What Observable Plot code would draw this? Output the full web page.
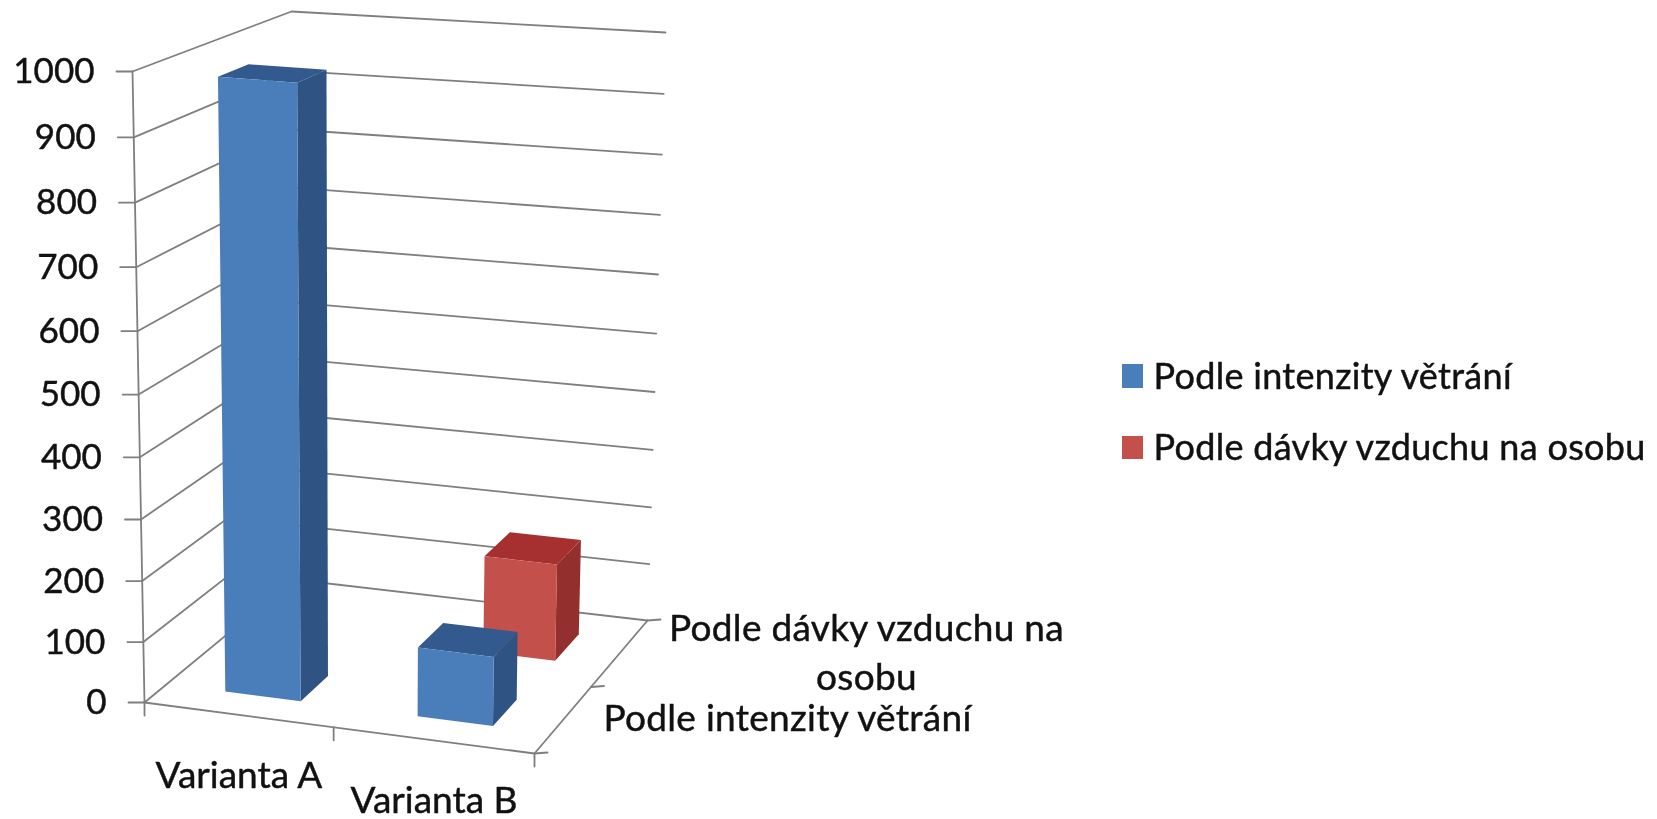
<!DOCTYPE html>
<html><head><meta charset="utf-8">
<script src="https://cdn.jsdelivr.net/npm/d3@7"></script>
<script src="https://cdn.jsdelivr.net/npm/@observablehq/plot@0.6"></script>
<style>
html,body{margin:0;padding:0;background:#fff;overflow:hidden}
svg{display:block;filter:blur(0.55px)}
.wide text{letter-spacing:0.3px}
</style>
</head><body><div id="chart"></div>
<script>
// ---- data
const categories = ["Varianta A", "Varianta B"];
const seriesNames = ["Podle intenzity větrání", "Podle dávky vzduchu na osobu"];
const depthLabels = ["Podle intenzity větrání", "Podle dávky vzduchu na\nosobu"];
const intenzita = [985, 113];
const davka = [null, 165];
const valueTicks = [0, 100, 200, 300, 400, 500, 600, 700, 800, 900, 1000];

// ---- look
const faces = [
  {front: "#4a7ebb", top: "#325a8f", side: "#2f5383"},
  {front: "#c4504c", top: "#a5302f", side: "#93302e"}
];
const gridColor = "#7f7f7f", font = "Lato, sans-serif";

// ---- the 3D view: the cube's eight screen corners (u = along categories, v = depth, w = value)
const cube = {
  b00: [144, 702], b10: [534, 753], b01: [293, 579], b11: [647, 620],
  t00: [132, 71],  t10: [542, 102], t01: [291, 11],  t11: [665, 32]
};
const lerp = (a, b, t) => [a[0] + (b[0] - a[0]) * t, a[1] + (b[1] - a[1]) * t];
const project = (u, v, value) => {
  const r = value / 1000, w = r / (r + 1.049 * (1 - r));
  const bottom = lerp(lerp(cube.b00, cube.b10, u), lerp(cube.b01, cube.b11, u), v);
  const top = lerp(lerp(cube.t00, cube.t10, u), lerp(cube.t01, cube.t11, u), v);
  return lerp(bottom, top, w);
};
const pt = (u, v, value, id) => { const [x, y] = project(u, v, value); return {x, y, id}; };

// ---- walls
const wallLines = valueTicks.flatMap((t) => [
  pt(0, 0, t, "g" + t), pt(0, 1, t, "g" + t), pt(1, 1, t, "g" + t)
]);
const floorLines = [
  pt(0, 0, 0, "f"), pt(1, 0, 0, "f"), pt(1, 1, 0, "f"),
  pt(0, 0, 0, "ax"), pt(0, 0, 1000, "ax")
];
const offset = (p, dx, dy, id) => ({x: p.x + dx, y: p.y + dy, id});
const ticks = [
  ...valueTicks.flatMap((t) => { const p = pt(0, 0, t); return [offset(p, 0, 0, "v" + t), offset(p, -16, 0, "v" + t)]; }),
  ...[0, 0.485, 1].flatMap((u) => { const p = pt(u, 0, 0); return [offset(p, 0, 0, "c" + u), offset(p, 0, 13, "c" + u)]; }),
  ...[0, 0.5, 1].flatMap((v) => { const p = pt(1, v, 0); return [offset(p, 0, 0, "d" + v), offset(p, 13, -1, "d" + v)]; })
];

// ---- bars
const halfW = 0.098, halfD = 0.1, seriesShift = 0.008;
const rows = [];
[intenzita, davka].forEach((vals, s) => vals.forEach((value, c) => {
  if (value != null) rows.push({c, s, value});
}));
rows.sort((a, b) => b.s - a.s || a.c - b.c);
const polys = rows.flatMap(({c, s, value}) => {
  const uc = (c + 0.5) / 2 + s * seriesShift;
  const u0 = uc - halfW, u1 = uc + halfW;
  const v0 = (s + 0.5) / 2 - halfD, v1 = (s + 0.5) / 2 + halfD;
  const id = `${c}-${s}-`, f = faces[s];
  const face = (name, color, corners) =>
    corners.map((k) => ({...pt(k[0], k[1], k[2], id + name), color}));
  return [
    ...face("top", f.top, [[u0, v0, value], [u1, v0, value], [u1, v1, value], [u0, v1, value]]),
    ...face("side", f.side, [[u1, v0, 0], [u1, v1, 0], [u1, v1, value], [u1, v0, value]]),
    ...face("front", f.front, [[u0, v0, 0], [u1, v0, 0], [u1, v0, value], [u0, v0, value]])
  ];
});

// ---- labels
const valueLabels = valueTicks.map((t) => { const p = pt(0, 0, t); return {x: p.x - 38, y: p.y - 3, t: String(t)}; });
const catLabels = categories.map((t, c) => { const p = pt((c + 0.5) / 2, 0, 0); return {x: p.x - 3, y: p.y + 57, t}; });
const depthText = [
  {x: 787, y: 715, t: depthLabels[0]},
  {x: 866, y: 649, t: depthLabels[1]}
];
const legendBox = [
  {x1: 1122, x2: 1143, y1: 364, y2: 388, color: faces[0].front},
  {x1: 1122, x2: 1143, y1: 436, y2: 459, color: faces[1].front}
];
const legendText = seriesNames.map((t, i) => ({x: 1153, y: 373 + i * 71, t}));

const textOpts = {x: "x", y: "y", text: "t", fontFamily: font, fill: "#111", stroke: "#111", strokeWidth: 0.45, lineHeight: 1.32};

const chart = Plot.plot({
  width: 1657, height: 819, margin: 0,
  x: {type: "identity", axis: null}, y: {type: "identity", axis: null},
  marks: [
    Plot.line(wallLines, {x: "x", y: "y", z: "id", stroke: gridColor, strokeWidth: 1.8, curve: "linear"}),
    Plot.line(floorLines, {x: "x", y: "y", z: "id", stroke: gridColor, strokeWidth: 1.8}),
    Plot.line(ticks, {x: "x", y: "y", z: "id", stroke: gridColor, strokeWidth: 1.8}),
    Plot.line(polys, {x: "x", y: "y", z: "id", fill: "color", stroke: null}),
    Plot.text(valueLabels, {...textOpts, fontSize: 35, textAnchor: "end"}),
    Plot.text(catLabels, {...textOpts, fontSize: 37}),
    Plot.text(depthText, {...textOpts, fontSize: 37, className: "wide"}),
    Plot.rect(legendBox, {x1: "x1", x2: "x2", y1: "y1", y2: "y2", fill: "color"}),
    Plot.text(legendText, {...textOpts, fontSize: 36, textAnchor: "start", className: "wide"})
  ]
});
document.getElementById("chart").append(chart);
</script></body></html>
